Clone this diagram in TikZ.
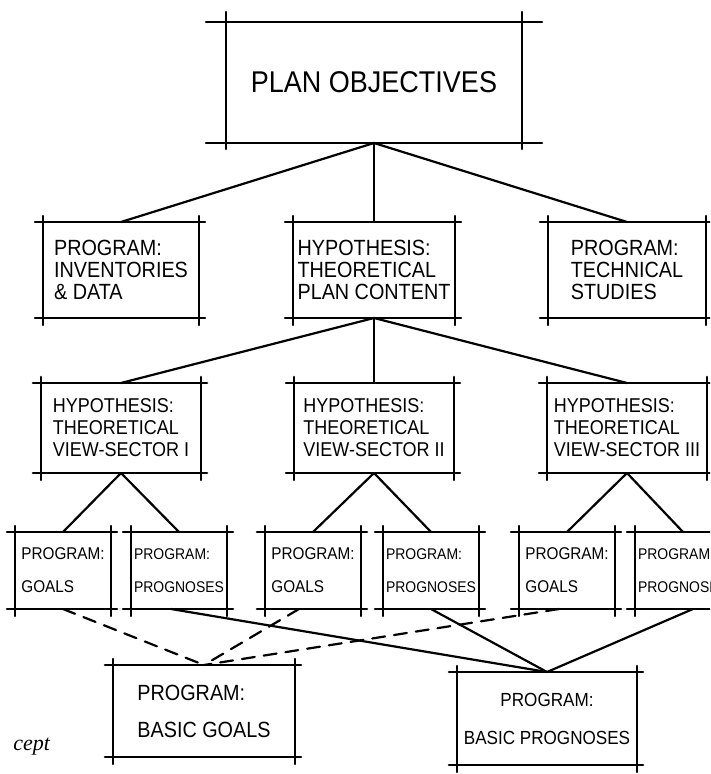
\documentclass[tikz,border=0pt]{standalone}
\usepackage{fontspec}
\setmainfont{Liberation Sans}[FakeStretch=0.9]
\newfontfamily\notefont{Liberation Serif}
\usepackage{tikz}
\usetikzlibrary{positioning}

\begin{document}
\begin{tikzpicture}[
  x=1pt,y=1pt,
  every node/.style={inner sep=0pt,outer sep=0pt},
  top/.style={minimum width=296pt,minimum height=121pt,font=\fontsize{30}{32}\selectfont},
  mid/.style={minimum width=158pt,minimum height=96pt,align=left,font=\fontsize{22}{22}\selectfont},
  sector/.style={minimum width=160pt,minimum height=90pt,align=left,font=\fontsize{20}{22}\selectfont},
  leaf/.style={minimum width=96pt,minimum height=77pt,align=left,font=\fontsize{17}{33}\selectfont},
  progleaf/.style={leaf,font=\fontsize{15.5}{33}\selectfont},
  basic/.style={minimum width=182pt,minimum height=92pt,align=left,font=\fontsize{22}{37}\selectfont},
  frame/.style={line width=2.6pt,line cap=round},
  link/.style={line width=2.2pt,line cap=round},
  dlink/.style={link,dash pattern=on 13pt off 9pt}
]
\useasboundingbox (0,0) rectangle (710,774);
\clip (0,0) rectangle (710,774);

% boxes
\node[top] (obj) at (374,691.5) {PLAN OBJECTIVES};
\node[mid,below=79pt of obj,minimum width=162pt] (plan) {HYPOTHESIS:\\THEORETICAL\\PLAN CONTENT};
\node[mid,left=94pt of plan,minimum width=156pt] (inv) {PROGRAM:\\INVENTORIES\\\& DATA};
\node[mid,right=93pt of plan] (tech) {PROGRAM:\\TECHNICAL\\STUDIES};
\node[sector,below=65pt of plan] (secII) {HYPOTHESIS:\\THEORETICAL\\VIEW-SECTOR II};
\node[sector,left=93pt of secII] (secI) {HYPOTHESIS:\\THEORETICAL\\VIEW-SECTOR I};
\node[sector,right=93pt of secII] (secIII) {HYPOTHESIS:\\THEORETICAL\\VIEW-SECTOR III};
\node[leaf,below=59pt of secI,xshift=-58pt] (goalsI) {PROGRAM:\\GOALS};
\node[progleaf,below=59pt of secI,xshift=58pt] (progI) {PROGRAM:\\PROGNOSES};
\node[leaf,below=59pt of secII,xshift=-61pt] (goalsII) {PROGRAM:\\GOALS};
\node[progleaf,below=59pt of secII,xshift=57pt] (progII) {PROGRAM:\\PROGNOSES};
\node[leaf,below=59pt of secIII,xshift=-60pt] (goalsIII) {PROGRAM:\\GOALS};
\node[progleaf,below=59pt of secIII,xshift=56pt] (progIII) {PROGRAM:\\PROGNOSES};
\node[basic] (basicgoals) at (204,63) {PROGRAM:\\BASIC GOALS};
\node[basic,minimum width=180pt,minimum height=93pt,align=center,font=\fontsize{19}{38}\selectfont] (basicprog) at (547,55.5) {PROGRAM:\\BASIC PROGNOSES};
\node[anchor=east,font=\notefont\itshape\fontsize{22}{22}\selectfont] (note) at (50,27) {cept};

% sketched frames with overshooting lines
\draw[frame] ([xshift=-20pt]obj.north west) -- ([xshift=20pt]obj.north east)
  ([xshift=-20pt]obj.south west) -- ([xshift=20pt]obj.south east)
  ([yshift=10pt]obj.north west) -- ([yshift=-6pt]obj.south west)
  ([yshift=10pt]obj.north east) -- ([yshift=-6pt]obj.south east);
\foreach \n in {inv,plan,tech,secI,secII,secIII,goalsI,progI,goalsII,progII,goalsIII,progIII,basicgoals,basicprog}{
  \draw[frame] ([xshift=-8pt]\n.north west) -- ([xshift=6pt]\n.north east)
    ([xshift=-8pt]\n.south west) -- ([xshift=6pt]\n.south east)
    ([yshift=6pt]\n.north west) -- ([yshift=-7pt]\n.south west)
    ([yshift=6pt]\n.north east) -- ([yshift=-7pt]\n.south east);
}

% tree
\draw[link] (obj.south) -- (inv.north);
\draw[link] (obj.south) -- (plan.north);
\draw[link] (obj.south) -- (tech.north);
\draw[link] (plan.south) -- (secI.north);
\draw[link] (plan.south) -- (secII.north);
\draw[link] (plan.south) -- (secIII.north);
\draw[link] (secI.south) -- (goalsI.north);
\draw[link] (secI.south) -- (progI.north);
\draw[link] (secII.south) -- (goalsII.north);
\draw[link] (secII.south) -- (progII.north);
\draw[link] (secIII.south) -- (goalsIII.north);
\draw[link] (secIII.south) -- (progIII.north);

% to the basic programs
\draw[dlink] (goalsI.south) -- (basicgoals.north);
\draw[dlink] ([xshift=-14pt]goalsII.south) -- (basicgoals.north);
\draw[dlink] ([xshift=-8pt]goalsIII.south) -- (basicgoals.north);
\draw[link] ([xshift=-8pt]progI.south) -- (basicprog.north);
\draw[link] (progII.south) -- (basicprog.north);
\draw[link] ([xshift=10pt]progIII.south) -- (basicprog.north);
\end{tikzpicture}
\end{document}
